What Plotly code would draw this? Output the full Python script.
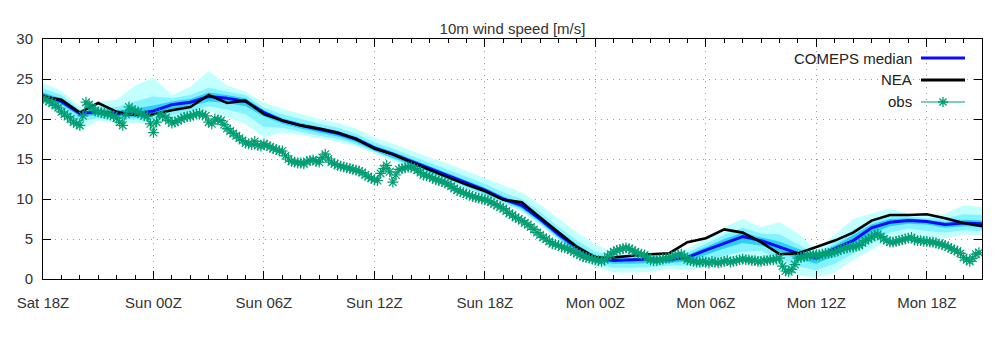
import plotly.graph_objects as go

# ---------------- data ----------------
tick_hours = [0, 6, 12, 18, 24, 30, 36, 42, 48]
tick_labels = ["Sat 18Z", "Sun 00Z", "Sun 06Z", "Sun 12Z", "Sun 18Z",
               "Mon 00Z", "Mon 06Z", "Mon 12Z", "Mon 18Z"]

# hourly model output, hours after Sat 18Z (0..51)
model_hours = list(range(52))

comeps_median = [22.9, 22.2, 20.7, 20.9, 20.7, 20.6, 21.0, 21.8, 22.1, 22.8, 22.6, 22.2, 20.8,
                 19.8, 19.2, 18.7, 18.2, 17.5, 16.4, 15.6, 14.7, 13.8, 13.0, 12.0, 11.1,
                 10.0, 9.2, 7.5, 5.6, 3.9, 2.6,
                 2.3, 2.4, 2.5, 2.4, 2.7, 3.6, 4.5, 5.3, 4.8, 4.0, 3.2, 2.6, 3.8, 4.8, 6.4,
                 7.1, 7.3, 7.2, 6.8, 7.0, 6.9]

nea = [22.8, 22.4, 20.8, 22.0, 20.9, 20.5, 20.6, 21.1, 21.5, 23.0, 22.0, 22.3, 20.6,
       19.8, 19.2, 18.8, 18.3, 17.5, 16.3, 15.6, 14.6, 13.6, 12.7, 11.8, 11.0,
       9.9, 9.6, 7.7, 5.8, 4.0, 2.7,
       2.7, 2.9, 3.1, 3.2, 4.6, 5.1, 6.2, 5.8, 4.6, 3.1, 3.2, 4.0, 4.8, 5.8, 7.3,
       8.0, 8.0, 8.1, 7.6, 7.0, 6.6]

comeps_max = [24.5, 23.5, 21.6, 22.2, 22.4, 24.2, 25.2, 23.0, 24.0, 26.0, 24.2, 23.4, 22.0,
              21.3, 20.6, 20.0, 19.5, 18.8, 17.7, 16.9, 16.0, 15.2, 14.4, 13.5, 12.6,
              11.6, 10.8, 9.3, 7.5, 5.8, 4.3,
              3.3, 3.2, 3.3, 3.2, 3.8, 5.1, 6.5, 7.5, 6.5, 7.1, 5.7, 3.6, 5.5, 7.5, 8.2,
              8.8, 8.2, 7.9, 8.2, 9.2, 9.0]

comeps_p90 = [23.8, 23.0, 21.2, 21.6, 21.5, 22.2, 22.8, 22.6, 23.0, 23.9, 23.4, 23.0, 21.4,
              20.6, 20.0, 19.4, 18.9, 18.2, 17.1, 16.3, 15.4, 14.5, 13.7, 12.8, 11.9,
              10.8, 10.0, 8.4, 6.5, 4.8, 3.4,
              2.9, 2.8, 2.9, 2.8, 3.3, 4.4, 5.5, 6.4, 5.7, 5.6, 4.4, 3.1, 4.6, 6.2, 7.3,
              7.9, 7.8, 7.6, 7.6, 8.1, 8.0]

comeps_p75 = [23.3, 22.6, 20.9, 21.2, 21.1, 21.3, 21.7, 22.2, 22.5, 23.3, 23.0, 22.6, 21.1,
              20.1, 19.5, 19.0, 18.5, 17.8, 16.7, 15.9, 15.0, 14.1, 13.3, 12.3, 11.4,
              10.3, 9.5, 7.9, 6.0, 4.3, 2.9,
              2.6, 2.6, 2.7, 2.6, 3.0, 4.0, 5.0, 5.8, 5.2, 4.7, 3.8, 2.9, 4.2, 5.5, 6.8,
              7.5, 7.6, 7.4, 7.1, 7.4, 7.3]

comeps_p25 = [22.5, 21.8, 20.3, 20.5, 20.3, 20.2, 20.4, 21.2, 21.6, 22.2, 22.0, 21.6, 20.3,
              19.4, 18.8, 18.3, 17.8, 17.1, 16.0, 15.2, 14.3, 13.4, 12.6, 11.6, 10.7,
              9.7, 8.8, 7.1, 5.2, 3.4, 2.2,
              1.9, 1.9, 2.0, 2.0, 2.2, 3.0, 3.8, 4.5, 4.2, 3.4, 2.5, 1.9, 2.9, 4.0, 5.7,
              6.6, 6.9, 6.8, 6.4, 6.6, 6.5]

comeps_p10 = [22.2, 21.3, 19.7, 20.1, 20.0, 19.9, 19.9, 20.5, 20.9, 21.6, 21.2, 20.6, 19.0,
              18.9, 18.4, 17.9, 17.5, 16.8, 15.8, 15.0, 14.1, 13.2, 12.4, 11.4, 10.5,
              9.5, 8.6, 6.9, 5.0, 3.2, 1.9,
              1.4, 1.4, 1.5, 1.7, 1.7, 2.3, 2.9, 3.4, 3.5, 2.5, 1.6, 1.1, 1.9, 3.2, 4.6,
              5.8, 6.3, 6.0, 5.8, 6.1, 6.0]

comeps_min = [21.9, 20.6, 18.5, 19.8, 19.6, 19.5, 19.4, 19.8, 20.2, 21.0, 20.2, 19.4, 17.7,
              18.3, 18.0, 17.6, 17.2, 16.6, 15.6, 14.8, 13.9, 13.0, 12.2, 11.3, 10.4,
              9.4, 8.4, 6.7, 4.9, 3.2, 1.6,
              0.8, 0.8, 0.9, 1.3, 1.1, 1.5, 2.0, 2.3, 2.7, 1.5, 0.5, 0.2, 0.8, 2.4, 3.6,
              5.0, 5.6, 5.1, 5.1, 5.6, 5.4]

# observations every 10 minutes (6 per hour), hours 0 .. 50:50
obs = [
    22.6, 22.4, 22.2, 22.0, 21.7, 21.4,   # 18Z
    20.9, 20.6, 20.3, 20.0, 19.6, 19.4,
    19.2, 20.4, 22.1, 21.8, 21.4, 21.0,
    20.9, 20.8, 20.7, 20.6, 20.5, 20.4,
    20.1, 19.6, 19.2, 20.6, 21.5, 21.2,
    21.0, 20.9, 20.6, 20.4, 20.3, 19.4,
    18.3, 19.6, 20.6, 20.4, 20.2, 19.8,   # Sun 00Z
    19.5, 19.6, 19.8, 20.0, 20.2, 20.3,
    20.3, 20.5, 20.6, 20.7, 20.5, 20.4,
    19.6, 19.4, 20.0, 19.9, 19.8, 19.3,
    18.8, 18.5, 18.2, 17.9, 17.6, 17.3,
    17.0, 16.9, 16.8, 17.2, 16.7, 16.6,
    16.9, 16.7, 16.5, 16.3, 16.2, 16.0,   # Sun 06Z
    16.0, 15.4, 15.0, 14.7, 14.6, 14.5,
    14.5, 14.4, 14.7, 14.8, 14.9, 14.7,
    14.6, 15.2, 15.6, 15.0, 14.6, 14.4,
    14.2, 14.1, 14.0, 13.9, 13.8, 13.7,
    13.6, 13.5, 13.3, 13.0, 12.8, 12.6,
    12.4, 12.3, 13.2, 13.8, 14.2, 13.4,   # Sun 12Z
    12.1, 13.0, 13.7, 13.8, 13.9, 14.0,
    14.0, 13.8, 13.6, 13.3, 13.0, 12.9,
    12.8, 12.6, 12.4, 12.3, 12.2, 12.0,
    11.9, 11.6, 11.3, 11.1, 10.9, 10.8,
    10.6, 10.5, 10.3, 10.2, 10.1, 10.0,
    9.9, 9.8, 9.6, 9.4, 9.2, 9.0,         # Sun 18Z
    8.8, 8.5, 8.2, 8.0, 7.7, 7.5,
    7.3, 7.0, 6.8, 6.5, 6.2, 5.8,
    5.5, 5.2, 5.0, 4.7, 4.4, 4.3,
    4.2, 4.0, 3.9, 3.8, 3.6, 3.4,
    3.2, 3.0, 2.8, 2.7, 2.6, 2.5,
    2.4, 2.3, 2.2, 2.4, 2.8, 3.1,         # Mon 00Z
    3.4, 3.6, 3.7, 3.8, 3.9, 3.8,
    3.6, 3.4, 3.2, 3.1, 3.0, 2.7,
    2.4, 2.3, 2.3, 2.4, 2.5, 2.6,
    2.6, 2.8, 2.9, 3.0, 3.1, 2.8,
    2.4, 2.3, 2.2, 2.1, 2.1, 2.2,
    2.1, 2.0, 2.2, 2.1, 2.0, 2.1,         # Mon 06Z
    2.2, 2.3, 2.1, 2.2, 2.3, 2.4,
    2.5, 2.4, 2.4, 2.3, 2.3, 2.2,
    2.2, 2.3, 2.3, 2.4, 2.4, 2.5,
    2.6, 1.6, 1.0, 0.9, 1.2, 1.8,
    2.6, 2.7, 2.8, 2.9, 3.0, 3.0,
    3.0, 3.0, 3.1, 3.2, 3.2, 3.3,         # Mon 12Z
    3.4, 3.5, 3.7, 3.8, 3.9, 4.0,
    4.0, 4.1, 4.2, 4.5, 4.8, 5.0,
    5.2, 5.5, 5.6, 5.3, 5.0, 4.8,
    4.6, 4.6, 4.7, 4.8, 4.9, 5.0,
    5.1, 5.2, 4.9, 4.8, 4.8, 4.7,
    4.7, 4.6, 4.6, 4.5, 4.4, 4.3,         # Mon 18Z
    4.2, 4.0, 3.8, 3.6, 3.5, 3.2,
    2.7, 2.4, 2.2, 2.6, 3.1, 3.3,
]
obs_hours = [i / 6 for i in range(len(obs))]

legend_names = ["COMEPS median", "NEA", "obs"]

# ---------------- style ----------------
C_OUTER = "#c2ffff"
C_MID = "#84f2ff"
C_INNER = "#2ed0f2"
C_MED = "#0a0aff"
C_NEA = "#000000"
C_OBS = "#009e73"
FONT = "Liberation Sans, Arial, sans-serif"

fig = go.Figure()


def band(upper, lower, color):
    fig.add_trace(go.Scatter(
        x=model_hours + model_hours[::-1],
        y=upper + lower[::-1],
        fill="toself", fillcolor=color, mode="lines",
        line=dict(width=0, color=color), hoverinfo="skip", showlegend=False))


band(comeps_max, comeps_min, C_OUTER)
band(comeps_p90, comeps_p10, C_MID)
band(comeps_p75, comeps_p25, C_INNER)

fig.add_trace(go.Scatter(x=model_hours, y=comeps_median, mode="lines",
                         line=dict(color=C_MED, width=3), name=legend_names[0],
                         showlegend=False))
fig.add_trace(go.Scatter(x=model_hours, y=nea, mode="lines",
                         line=dict(color=C_NEA, width=2.6), name=legend_names[1],
                         showlegend=False))
fig.add_trace(go.Scatter(x=obs_hours, y=obs, mode="lines+markers",
                         line=dict(color=C_OBS, width=1),
                         marker=dict(symbol="asterisk-open", size=9, color=C_OBS,
                                     line=dict(color=C_OBS, width=1.2)),
                         name=legend_names[2], showlegend=False))

# plot-area geometry in pixels (for the hand-drawn gnuplot-style key)
W, H = 1004, 341
L, R, T, B = 43, 22, 39, 62
PW, PH = W - L - R, H - T - B


def px(xp):
    return (xp - L) / PW


def py(yp):
    return (H - B - yp) / PH


shapes = [dict(type="rect", xref="paper", yref="paper", x0=px(799), x1=1.0,
               y0=py(112), y1=1.0, fillcolor="white", line=dict(width=0),
               layer="between")]
annotations = []
rows = [58, 80, 102]
colors = [C_MED, C_NEA, C_OBS]
widths = [3, 3, 1]
for name, yr, col, wd in zip(legend_names, rows, colors, widths):
    annotations.append(dict(text=name, xref="paper", yref="paper", x=px(914), y=py(yr),
                            xanchor="right", yanchor="middle", showarrow=False,
                            font=dict(family=FONT, size=15, color="#222")))
    shapes.append(dict(type="line", xref="paper", yref="paper", x0=px(921), x1=px(965),
                       y0=py(yr), y1=py(yr), line=dict(color=col, width=wd)))
# asterisk sample for obs
cx, cy, r = 943, rows[2], 5
d = r * 0.707
path = (f"M {px(cx)},{py(cy - r)} L {px(cx)},{py(cy + r)} "
        f"M {px(cx - r)},{py(cy)} L {px(cx + r)},{py(cy)} "
        f"M {px(cx - d)},{py(cy - d)} L {px(cx + d)},{py(cy + d)} "
        f"M {px(cx - d)},{py(cy + d)} L {px(cx + d)},{py(cy - d)}")
shapes.append(dict(type="path", xref="paper", yref="paper", path=path,
                   line=dict(color=C_OBS, width=1.3)))

grid = dict(showgrid=True, gridcolor="#9a9a9a", gridwidth=1, griddash="1px,5px")

fig.update_layout(
    width=W, height=H,
    margin=dict(l=L, r=R, t=T, b=B, pad=0),
    paper_bgcolor="white", plot_bgcolor="white",
    font=dict(family=FONT, size=15, color="#333"),
    showlegend=False,
    title=dict(text="10m wind speed [m/s]", xref="paper", x=0.5, xanchor="center",
               yref="container", y=1 - 29 / H, yanchor="middle",
               font=dict(family=FONT, size=15, color="#333")),
    shapes=shapes, annotations=annotations,
    xaxis=dict(range=[0, 51], tickmode="array", tickvals=tick_hours, ticktext=tick_labels,
               ticks="inside", ticklen=8, tickwidth=1, tickcolor="black",
               showline=True, linecolor="black", linewidth=1, mirror="allticks",
               zeroline=False, ticklabelstandoff=10,
               minor=dict(dtick=1, tick0=0, ticks="inside", ticklen=4, tickcolor="black",
                          showgrid=False),
               **grid),
    yaxis=dict(range=[0, 30], tickmode="linear", tick0=0, dtick=5,
               ticks="inside", ticklen=8, tickwidth=1, tickcolor="black",
               showline=True, linecolor="black", linewidth=1, mirror="allticks",
               zeroline=False, ticklabelstandoff=6, **grid),
)

fig.write_html("out.html")
